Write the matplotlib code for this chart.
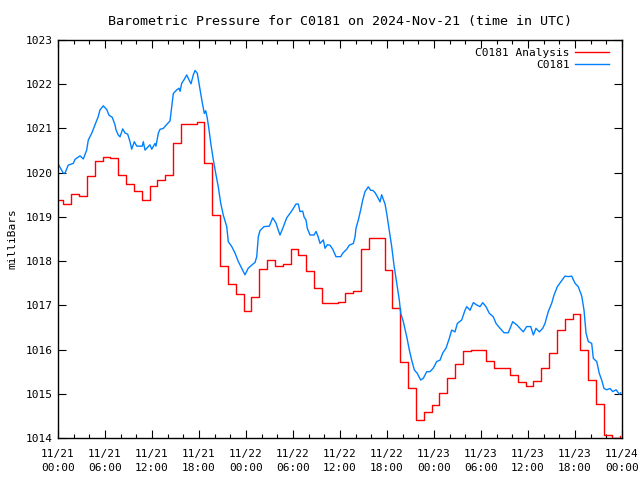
import numpy as np
import matplotlib
matplotlib.use("Agg")
import matplotlib.pyplot as plt

# hourly analysis values (hour 0 = 11/21 00:00 UTC)
analysis_hours = np.arange(73)
analysis_mb = [
    1019.38, 1019.29, 1019.51, 1019.47, 1019.92, 1020.26, 1020.35, 1020.33,
    1019.94, 1019.74, 1019.58, 1019.38, 1019.69, 1019.83, 1019.94, 1020.67,
    1021.09, 1021.09, 1021.15, 1020.21, 1019.04, 1017.88, 1017.48, 1017.25,
    1016.87, 1017.19, 1017.82, 1018.03, 1017.90, 1017.93, 1018.27, 1018.13,
    1017.77, 1017.39, 1017.06, 1017.05, 1017.07, 1017.27, 1017.32, 1018.27,
    1018.52, 1018.52, 1017.81, 1016.93, 1015.71, 1015.12, 1014.41, 1014.58,
    1014.75, 1015.01, 1015.35, 1015.67, 1015.96, 1015.98, 1016.00, 1015.73,
    1015.58, 1015.58, 1015.42, 1015.26, 1015.18, 1015.28, 1015.58, 1015.92,
    1016.44, 1016.68, 1016.80, 1016.00, 1015.31, 1014.76, 1014.07, 1013.99,
    1014.05,
]

# station observations
obs_hours = [
    0.0, 0.68, 0.89, 1.31, 1.95, 2.17, 2.81, 3.23, 3.66, 3.87, 4.30, 4.72,
    5.14, 5.36, 5.78, 6.22, 6.51, 6.93, 7.28, 7.40, 7.70, 7.92, 8.26, 8.55,
    8.90, 9.19, 9.41, 9.74, 10.05, 10.76, 10.89, 11.11, 11.74, 11.96, 12.38,
    12.51, 12.80, 13.02, 13.44, 13.88, 14.30, 14.52, 14.72, 15.15, 15.45,
    15.58, 15.79, 16.12, 16.43, 16.72, 16.98, 17.27, 17.49, 17.78, 18.00,
    18.22, 18.42, 18.68, 18.86, 19.06, 19.28, 19.53, 19.83, 20.13, 20.46,
    20.77, 21.10, 21.54, 21.74, 22.18, 22.60, 23.02, 23.45, 23.87, 24.29,
    24.73, 25.15, 25.37, 25.57, 25.79, 26.30, 26.98, 27.41, 27.83, 28.12,
    28.34, 28.69, 29.20, 29.62, 30.04, 30.38, 30.68, 30.89, 31.24, 31.41,
    31.66, 31.83, 32.17, 32.68, 32.94, 33.23, 33.45, 33.87, 34.09, 34.38,
    34.72, 35.07, 35.49, 36.09, 36.35, 36.86, 37.19, 37.70, 37.92, 38.04,
    38.34, 38.64, 38.90, 39.19, 39.61, 39.92, 40.18, 40.47, 40.76, 41.11,
    41.32, 41.75, 41.96, 42.29, 42.60, 42.89, 43.24, 43.57, 43.75, 44.08,
    44.52, 44.85, 45.15, 45.49, 45.87, 46.30, 46.64, 47.07, 47.49, 47.91,
    48.35, 48.77, 49.11, 49.53, 49.95, 50.26, 50.68, 50.98, 51.54, 51.96,
    52.18, 52.60, 53.02, 53.45, 53.87, 54.22, 54.64, 55.06, 55.57, 55.92,
    56.43, 56.94, 57.49, 58.05, 58.56, 58.98, 59.40, 59.83, 60.35, 60.68,
    61.02, 61.45, 61.88, 62.17, 62.59, 63.03, 63.32, 63.74, 64.18, 64.72,
    65.15, 65.58, 66.00, 66.42, 66.86, 67.15, 67.41, 67.70, 68.13, 68.34,
    68.77, 69.10, 69.41, 69.70, 70.05, 70.47, 70.82, 71.24, 71.66, 71.83,
]
obs_mb = [
    1020.20, 1019.99, 1019.99, 1020.17, 1020.21, 1020.30, 1020.38, 1020.31,
    1020.51, 1020.74, 1020.89, 1021.08, 1021.27, 1021.42, 1021.51, 1021.43,
    1021.30, 1021.25, 1021.08, 1020.97, 1020.85, 1020.81, 1020.99, 1020.90,
    1020.87, 1020.70, 1020.53, 1020.70, 1020.60, 1020.60, 1020.70, 1020.51,
    1020.63, 1020.53, 1020.66, 1020.60, 1020.89, 1020.98, 1021.00, 1021.09,
    1021.17, 1021.49, 1021.79, 1021.87, 1021.91, 1021.84, 1022.02, 1022.11,
    1022.21, 1022.10, 1022.01, 1022.21, 1022.31, 1022.25, 1022.02, 1021.79,
    1021.58, 1021.34, 1021.40, 1021.23, 1020.97, 1020.63, 1020.29, 1019.99,
    1019.68, 1019.31, 1019.04, 1018.78, 1018.44, 1018.33, 1018.18, 1017.99,
    1017.84, 1017.69, 1017.84, 1017.91, 1017.97, 1018.10, 1018.55, 1018.69,
    1018.78, 1018.79, 1018.98, 1018.86, 1018.70, 1018.59, 1018.74, 1018.98,
    1019.08, 1019.19, 1019.29, 1019.29, 1019.12, 1019.13, 1019.00, 1018.93,
    1018.74, 1018.59, 1018.59, 1018.67, 1018.54, 1018.40, 1018.48, 1018.29,
    1018.37, 1018.36, 1018.27, 1018.10, 1018.10, 1018.18, 1018.27, 1018.36,
    1018.40, 1018.55, 1018.74, 1018.93, 1019.16, 1019.38, 1019.57, 1019.68,
    1019.60, 1019.60, 1019.55, 1019.46, 1019.34, 1019.50, 1019.29, 1019.08,
    1018.70, 1018.33, 1017.91, 1017.50, 1017.12, 1016.82, 1016.63, 1016.29,
    1015.99, 1015.76, 1015.54, 1015.46, 1015.31, 1015.35, 1015.50, 1015.50,
    1015.58, 1015.73, 1015.76, 1015.92, 1016.03, 1016.25, 1016.44, 1016.40,
    1016.59, 1016.67, 1016.89, 1016.97, 1016.89, 1017.06, 1017.01, 1016.97,
    1017.06, 1016.97, 1016.82, 1016.74, 1016.59, 1016.48, 1016.38, 1016.38,
    1016.63, 1016.56, 1016.48, 1016.40, 1016.52, 1016.52, 1016.33, 1016.48,
    1016.40, 1016.48, 1016.59, 1016.86, 1017.05, 1017.23, 1017.42, 1017.53,
    1017.66, 1017.65, 1017.66, 1017.50, 1017.42, 1017.21, 1016.89, 1016.37,
    1016.18, 1016.14, 1015.80, 1015.73, 1015.46, 1015.31, 1015.12, 1015.09,
    1015.12, 1015.05, 1015.09, 1014.99, 1015.02,
]

tick_hours = np.arange(0, 73, 6)
tick_labels = [
    "11/21\n00:00", "11/21\n06:00", "11/21\n12:00", "11/21\n18:00",
    "11/22\n00:00", "11/22\n06:00", "11/22\n12:00", "11/22\n18:00",
    "11/23\n00:00", "11/23\n06:00", "11/23\n12:00", "11/23\n18:00",
    "11/24\n00:00",
]

plt.rcParams['font.family'] = ['DejaVu Sans Mono']
plt.rcParams['font.size'] = 8

fig = plt.figure(figsize=(6.4, 4.8), dpi=100)
ax = fig.add_axes([58 / 640, 42 / 480, 564 / 640, 398 / 480])

ax.plot(analysis_hours - 0.3, analysis_mb, color="#ff0000", lw=1.0,
        drawstyle="steps-post", label="C0181 Analysis")
ax.plot(obs_hours, obs_mb, color="#0080ff", lw=1.0, label="C0181")

ax.set_xlim(0, 72)
ax.set_ylim(1014, 1023)
ax.set_xticks(tick_hours)
ax.set_xticklabels(tick_labels, linespacing=1.45)
ax.set_xticks(np.arange(0, 73, 2), minor=True)
ax.set_yticks(np.arange(1014, 1024))
ax.tick_params(which="both", direction="in", top=True, right=True, width=0.8)
ax.tick_params(which="major", length=6)
ax.tick_params(which="minor", length=3)
ax.tick_params(axis="x", pad=8)
ax.tick_params(axis="y", pad=4)
for s in ax.spines.values():
    s.set_linewidth(1.0)

ax.set_ylabel("milliBars", labelpad=6)
ax.set_title("Barometric Pressure for C0181 on 2024-Nov-21 (time in UTC)", pad=11)

ax.legend(loc="upper right", frameon=False, markerfirst=False,
          handlelength=3.0, handletextpad=0.5, borderaxespad=0.3,
          labelspacing=0.2, bbox_to_anchor=(0.99, 1.0))

fig.savefig("out.png", dpi=100)
